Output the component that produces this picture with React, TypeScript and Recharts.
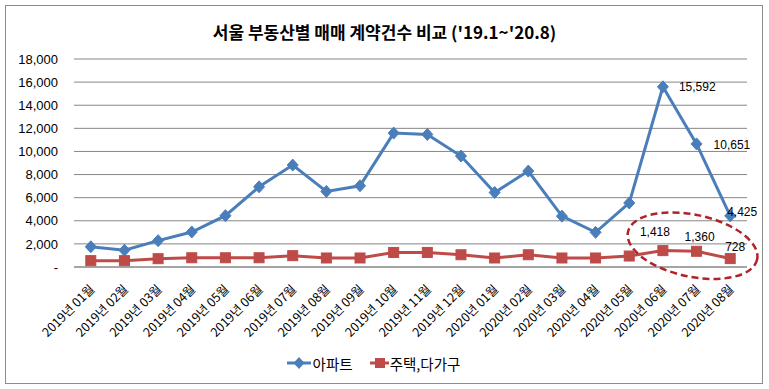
import React from 'react';
import { LineChart, Line, XAxis, YAxis, CartesianGrid, Legend, LabelList, ReferenceDot } from 'recharts';

const months = [
  '2019년 01월', '2019년 02월', '2019년 03월', '2019년 04월', '2019년 05월', '2019년 06월',
  '2019년 07월', '2019년 08월', '2019년 09월', '2019년 10월', '2019년 11월', '2019년 12월',
  '2020년 01월', '2020년 02월', '2020년 03월', '2020년 04월', '2020년 05월', '2020년 06월',
  '2020년 07월', '2020년 08월',
];
const apartment = [1750, 1450, 2280, 3030, 4440, 6940, 8820, 6540, 7030, 11590, 11470, 9600, 6450, 8300, 4400, 3000, 5540, 15592, 10651, 4425];
const house = [550, 550, 720, 800, 800, 800, 980, 780, 780, 1260, 1260, 1060, 780, 1060, 780, 780, 950, 1418, 1360, 728];
const labeledFrom = 17;
const yTicks = [0, 2000, 4000, 6000, 8000, 10000, 12000, 14000, 16000, 18000];
const seriesNames = ['아파트', '주택,다가구'];
const title = "서울 부동산별 매매 계약건수 비교 ('19.1~'20.8)";
const highlightMonth = '2020년 07월';
const highlightValue = 1930;

const data = months.map((m, i) => ({ month: m, apt: apartment[i], house: house[i] }));

const BLUE = '#4A7EBB';
const RED = '#BE4B48';
const GRID = '#868686';
const fmt = (v: number) => (v === 0 ? '-' : v.toLocaleString('en-US'));

const Diamond = (p: any) => {
  const { cx, cy } = p;
  if (cx == null || cy == null) return null;
  return <polygon points={`${cx},${cy - 6} ${cx + 5.5},${cy} ${cx},${cy + 6} ${cx - 5.5},${cy}`} fill={BLUE} stroke={BLUE} />;
};
const Square = (p: any) => {
  const { cx, cy } = p;
  if (cx == null || cy == null) return null;
  return <rect x={cx - 5} y={cy - 5} width={10} height={10} fill={RED} stroke={RED} />;
};

const XTick = (p: any) => {
  const { x, y, payload } = p;
  const ax = x + 4.5;
  const ay = y + 15;
  return (
    <text x={ax} y={ay} transform={`rotate(-45 ${ax} ${ay})`} textAnchor="end" fontSize={12.5}
      fontFamily="'Noto Sans CJK KR', 'Noto Sans', sans-serif" fill="#000">
      {payload.value}
    </text>
  );
};

const aptOffsets: Record<number, [number, number]> = { 17: [16, 4], 18: [17, 5], 19: [-3, 0] };
const houseOffsets: Record<number, [number, number]> = { 17: [-8, -15], 18: [3, -10], 19: [5, -8] };

const makeLabel = (offsets: Record<number, [number, number]>, anchor: string) => (p: any) => {
  const { x, y, index, value } = p;
  if (index < labeledFrom) return null;
  const [dx, dy] = offsets[index] || [0, 0];
  return (
    <text x={x + dx} y={y + dy} textAnchor={anchor} fontSize={12}
      fontFamily="'Liberation Sans', Arial, sans-serif" fill="#000">
      {fmt(value)}
    </text>
  );
};

const EllipseShape = (p: any) => {
  const { cx, cy } = p;
  if (cx == null || cy == null) return null;
  const ex = cx - 4;
  const ey = cy + 1;
  return (
    <ellipse cx={ex} cy={ey} rx={66} ry={31} transform={`rotate(12 ${ex} ${ey})`}
      fill="none" stroke="#B0232A" strokeWidth={2.5} strokeDasharray="7 4" />
  );
};

const LegendContent = () => (
  <div style={{ height: 24, display: 'flex', justifyContent: 'center', alignItems: 'center', fontFamily: "'Noto Sans CJK KR', sans-serif", fontSize: 14.5, color: '#000' }}>
    <svg width={24} height={14} style={{ marginRight: 2 }}>
      <line x1={0} y1={7} x2={24} y2={7} stroke={BLUE} strokeWidth={3} />
      <polygon points="12,1 17.5,7 12,13 6.5,7" fill={BLUE} />
    </svg>
    <span>{seriesNames[0]}</span>
    <svg width={19} height={14} style={{ marginLeft: 17, marginRight: 1 }}>
      <line x1={0} y1={7} x2={19} y2={7} stroke={RED} strokeWidth={3} />
      <rect x={5} y={2} width={10} height={10} fill={RED} />
    </svg>
    <span>{seriesNames[1]}</span>
  </div>
);

export default function App() {
  return (
    <div style={{ position: 'absolute', left: 0, top: 0, width: 769, height: 389, background: '#fff' }}>
      <div style={{ position: 'absolute', left: 5, top: 5, width: 756, height: 377, border: '1px solid #8c8c8c' }} />
      <div style={{ position: 'absolute', left: 0, top: 19, width: 769, textAlign: 'center', fontFamily: "'Noto Sans CJK KR', sans-serif", fontWeight: 700, fontSize: 17, lineHeight: '26px', color: '#000' }}>
        {title}
      </div>
      <LineChart width={769} height={389} data={data} margin={{ top: 59, right: 22, bottom: 14, left: 0 }}>
        <CartesianGrid vertical={false} stroke={GRID} strokeWidth={1} />
        <XAxis dataKey="month" interval={0} tickLine={false} axisLine={{ stroke: GRID }} height={84}
          padding={{ left: 16.8, right: 16.8 }} tick={<XTick />} />
        <YAxis width={74} domain={[0, 18000]} ticks={yTicks} tickFormatter={fmt} axisLine={false} tickLine={false}
          tickMargin={10} tick={{ fontSize: 13, fill: '#000', fontFamily: "'Liberation Sans', Arial, sans-serif" }} />
        <Legend verticalAlign="bottom" content={<LegendContent />} />
        <ReferenceDot x={highlightMonth} y={highlightValue} ifOverflow="visible" shape={<EllipseShape />} />
        <Line type="linear" dataKey="apt" name={seriesNames[0]} stroke={BLUE} strokeWidth={3} dot={<Diamond />} isAnimationActive={false}>
          <LabelList dataKey="apt" content={makeLabel(aptOffsets, 'start')} />
        </Line>
        <Line type="linear" dataKey="house" name={seriesNames[1]} stroke={RED} strokeWidth={3} dot={<Square />} isAnimationActive={false}>
          <LabelList dataKey="house" content={makeLabel(houseOffsets, 'middle')} />
        </Line>
      </LineChart>
    </div>
  );
}
